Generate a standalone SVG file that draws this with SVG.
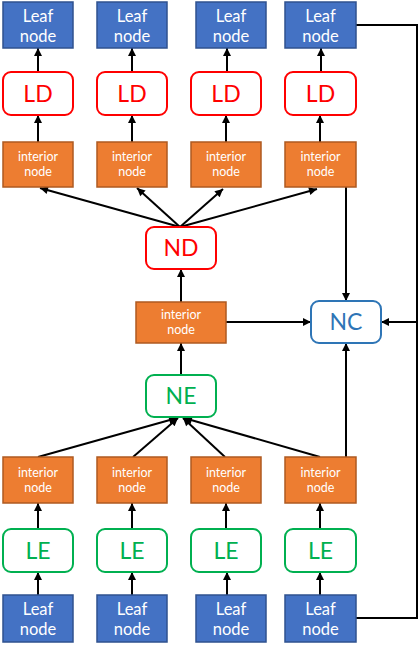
<svg xmlns="http://www.w3.org/2000/svg" width="418" height="650" viewBox="0 0 418 650">
<style>
.leaf{fill:#4472C4;stroke:#2F528F;stroke-width:1.5}
.int{fill:#ED7D31;stroke:#AE5A21;stroke-width:1.5}
.ld{fill:#fff;stroke:#FF0000;stroke-width:2}
.le{fill:#fff;stroke:#00B050;stroke-width:2}
.nc{fill:#fff;stroke:#2E75B6;stroke-width:2}
text{font-family:"Lato","Open Sans",sans-serif;text-anchor:middle}
.tl{fill:#fff;font-size:16.5px}
.ti{fill:#fff;font-size:12.5px}
.tr{fill:#FF0000;font-size:23px}
.tg{fill:#00B050;font-size:23px}
.tb{fill:#2E75B6;font-size:23px}
.c line,.c polyline{stroke:#000;stroke-width:2;fill:none}
.c line{marker-end:url(#ah)}
</style>
<defs>
<marker id="ah" viewBox="0 0 10 10" refX="10" refY="5" markerWidth="9" markerHeight="8" markerUnits="userSpaceOnUse" orient="auto">
<path d="M0,0 L10,5 L0,10 z" fill="#000"/>
</marker>
</defs>
<g class="c" id="connectors">
<line x1="38" y1="72" x2="38" y2="48"/>
<line x1="132" y1="72" x2="132" y2="48"/>
<line x1="227" y1="72" x2="227" y2="48"/>
<line x1="321" y1="72" x2="321" y2="48"/>
<line x1="38" y1="142" x2="38" y2="115"/>
<line x1="132" y1="142" x2="132" y2="115"/>
<line x1="226" y1="142" x2="226" y2="115"/>
<line x1="320" y1="142" x2="320" y2="115"/>
<line x1="180" y1="227" x2="40" y2="188"/>
<line x1="180" y1="227" x2="137" y2="188"/>
<line x1="180" y1="227" x2="223" y2="189"/>
<line x1="180" y1="227" x2="317" y2="189"/>
<line x1="181" y1="302" x2="181" y2="269"/>
<line x1="181" y1="375" x2="181" y2="343"/>
<line x1="226" y1="322" x2="311" y2="322"/>
<line x1="346" y1="187" x2="346" y2="301"/>
<line x1="346" y1="457" x2="346" y2="343"/>
<line x1="417" y1="322" x2="381" y2="322"/>
<polyline points="356,25 417,25 417,618 356,618"/>
<line x1="38" y1="457" x2="177" y2="418"/>
<line x1="133" y1="457" x2="178" y2="418"/>
<line x1="225" y1="457" x2="183" y2="418"/>
<line x1="320" y1="457" x2="184" y2="418"/>
<line x1="38" y1="529" x2="38" y2="503"/>
<line x1="132" y1="529" x2="132" y2="503"/>
<line x1="226" y1="529" x2="226" y2="503"/>
<line x1="320" y1="529" x2="320" y2="503"/>
<line x1="38" y1="595" x2="38" y2="572"/>
<line x1="132" y1="595" x2="132" y2="572"/>
<line x1="227" y1="595" x2="227" y2="572"/>
<line x1="320" y1="595" x2="320" y2="572"/>
</g>
<g id="leaf-top-1"><rect class="leaf" x="3" y="2" width="70" height="46"/><text class="tl" x="38" y="22">Leaf</text><text class="tl" x="38" y="42">node</text></g>
<g id="leaf-top-2"><rect class="leaf" x="97" y="2" width="70" height="46"/><text class="tl" x="132" y="22">Leaf</text><text class="tl" x="132" y="42">node</text></g>
<g id="leaf-top-3"><rect class="leaf" x="196" y="2" width="70" height="46"/><text class="tl" x="231" y="22">Leaf</text><text class="tl" x="231" y="42">node</text></g>
<g id="leaf-top-4"><rect class="leaf" x="285" y="2" width="71" height="46"/><text class="tl" x="320.5" y="22">Leaf</text><text class="tl" x="320.5" y="42">node</text></g>
<g id="ld-1"><rect class="ld" x="3" y="72" width="70" height="43" rx="8"/><text class="tr" x="38" y="102">LD</text></g>
<g id="ld-2"><rect class="ld" x="97" y="72" width="70" height="43" rx="8"/><text class="tr" x="132" y="102">LD</text></g>
<g id="ld-3"><rect class="ld" x="191" y="72" width="70" height="43" rx="8"/><text class="tr" x="226" y="102">LD</text></g>
<g id="ld-4"><rect class="ld" x="285" y="72" width="71" height="43" rx="8"/><text class="tr" x="320.5" y="102">LD</text></g>
<g id="int-top-1"><rect class="int" x="3" y="142" width="70" height="45"/><text class="ti" x="38" y="161">interior</text><text class="ti" x="38" y="176">node</text></g>
<g id="int-top-2"><rect class="int" x="97" y="142" width="70" height="45"/><text class="ti" x="132" y="161">interior</text><text class="ti" x="132" y="176">node</text></g>
<g id="int-top-3"><rect class="int" x="191" y="142" width="70" height="45"/><text class="ti" x="226" y="161">interior</text><text class="ti" x="226" y="176">node</text></g>
<g id="int-top-4"><rect class="int" x="285" y="142" width="71" height="45"/><text class="ti" x="320.5" y="161">interior</text><text class="ti" x="320.5" y="176">node</text></g>
<g id="nd"><rect class="ld" x="146" y="227" width="70" height="42" rx="8"/><text class="tr" x="181" y="256">ND</text></g>
<g id="int-mid"><rect class="int" x="136" y="302" width="90" height="41"/><text class="ti" x="181" y="319">interior</text><text class="ti" x="181" y="334">node</text></g>
<g id="nc"><rect class="nc" x="311" y="301" width="70" height="42" rx="8"/><text class="tb" x="346" y="330">NC</text></g>
<g id="ne"><rect class="le" x="146" y="375" width="70" height="42" rx="8"/><text class="tg" x="181" y="404">NE</text></g>
<g id="int-bot-1"><rect class="int" x="3" y="457" width="70" height="46"/><text class="ti" x="38" y="477">interior</text><text class="ti" x="38" y="492">node</text></g>
<g id="int-bot-2"><rect class="int" x="97" y="457" width="70" height="46"/><text class="ti" x="132" y="477">interior</text><text class="ti" x="132" y="492">node</text></g>
<g id="int-bot-3"><rect class="int" x="191" y="457" width="70" height="46"/><text class="ti" x="226" y="477">interior</text><text class="ti" x="226" y="492">node</text></g>
<g id="int-bot-4"><rect class="int" x="285" y="457" width="71" height="46"/><text class="ti" x="320.5" y="477">interior</text><text class="ti" x="320.5" y="492">node</text></g>
<g id="le-1"><rect class="le" x="3" y="529" width="70" height="43" rx="8"/><text class="tg" x="38" y="559">LE</text></g>
<g id="le-2"><rect class="le" x="97" y="529" width="70" height="43" rx="8"/><text class="tg" x="132" y="559">LE</text></g>
<g id="le-3"><rect class="le" x="191" y="529" width="70" height="43" rx="8"/><text class="tg" x="226" y="559">LE</text></g>
<g id="le-4"><rect class="le" x="285" y="529" width="71" height="43" rx="8"/><text class="tg" x="320.5" y="559">LE</text></g>
<g id="leaf-bot-1"><rect class="leaf" x="3" y="595" width="70" height="47"/><text class="tl" x="38" y="615">Leaf</text><text class="tl" x="38" y="635">node</text></g>
<g id="leaf-bot-2"><rect class="leaf" x="97" y="595" width="70" height="47"/><text class="tl" x="132" y="615">Leaf</text><text class="tl" x="132" y="635">node</text></g>
<g id="leaf-bot-3"><rect class="leaf" x="196" y="595" width="70" height="47"/><text class="tl" x="231" y="615">Leaf</text><text class="tl" x="231" y="635">node</text></g>
<g id="leaf-bot-4"><rect class="leaf" x="285" y="595" width="71" height="47"/><text class="tl" x="320.5" y="615">Leaf</text><text class="tl" x="320.5" y="635">node</text></g>
</svg>
